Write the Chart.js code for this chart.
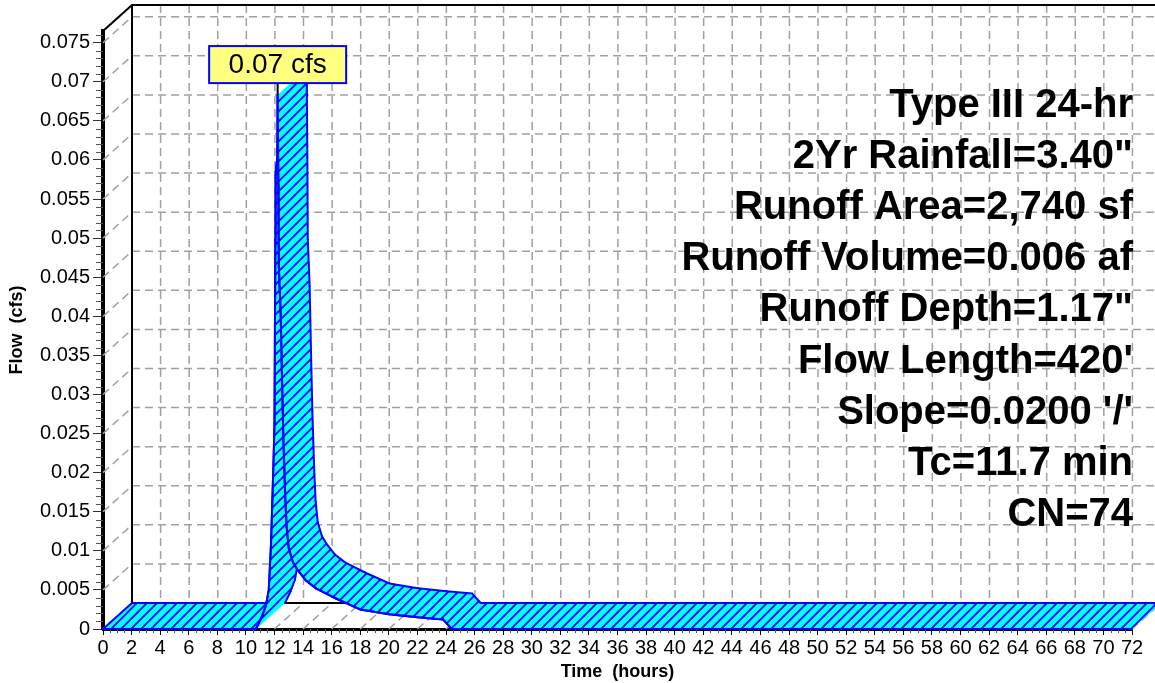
<!DOCTYPE html>
<html>
<head>
<meta charset="utf-8">
<script src="https://cdn.jsdelivr.net/npm/chart.js@4.4.1/dist/chart.umd.min.js"></script>
<style>
  html, body { margin: 0; padding: 0; background: #fff; }
</style>
</head>
<body>
<canvas id="hydroChart" width="1155" height="683"></canvas>
<script>
// hydrograph (hours, cfs)
const timeHours = [0, 10.7, 11.1, 11.4, 11.6, 11.76, 11.94, 12.0, 12.06, 12.08, 12.18, 12.22,
  12.27, 12.3, 12.43, 12.55, 12.62, 12.68, 12.76, 12.85, 13.0, 13.3, 13.6, 14.2, 14.9,
  16.3, 18.0, 20.0, 22.0, 23.8, 24.4, 72];
const flowCfs = [0, 0, 0.0015, 0.003, 0.005, 0.011, 0.022, 0.0265, 0.0498, 0.0585, 0.060, 0.0683,
  0.057, 0.0465, 0.0405, 0.030, 0.0245, 0.021, 0.0165, 0.013, 0.0103, 0.0085, 0.0076, 0.0062, 0.0052,
  0.0039, 0.0025, 0.0019, 0.0015, 0.0012, 0, 0];

const xTickHours = [0, 2, 4, 6, 8, 10, 12, 14, 16, 18, 20, 22, 24, 26, 28, 30, 32, 34, 36,
  38, 40, 42, 44, 46, 48, 50, 52, 54, 56, 58, 60, 62, 64, 66, 68, 70, 72];
const yTickValues = [0, 0.005, 0.01, 0.015, 0.02, 0.025, 0.03, 0.035, 0.04, 0.045, 0.05,
  0.055, 0.06, 0.065, 0.07, 0.075];

const infoLines = [
  "Type III 24-hr",
  "2Yr Rainfall=3.40\"",
  "Runoff Area=2,740 sf",
  "Runoff Volume=0.006 af",
  "Runoff Depth=1.17\"",
  "Flow Length=420'",
  "Slope=0.0200 '/'",
  "Tc=11.7 min",
  "CN=74"
];
const peakUnit = "cfs";

const FONT = '"Liberation Sans", Arial, sans-serif';
const DX = 29, DY = -26;   // depth of the 3d box

// cyan fill with blue diagonal hatch
const hatchCanvas = document.createElement("canvas");
hatchCanvas.width = 10;
hatchCanvas.height = 10;
(function () {
  const g = hatchCanvas.getContext("2d");
  g.fillStyle = "#00ffff";
  g.fillRect(0, 0, 10, 10);
  g.strokeStyle = "#0000ff";
  g.lineWidth = 1.8;
  g.beginPath();
  g.moveTo(-2, 12); g.lineTo(12, -2);
  g.moveTo(-7, 7); g.lineTo(7, -7);
  g.moveTo(3, 17); g.lineTo(17, 3);
  g.stroke();
})();

function seg(ctx, x1, y1, x2, y2) {
  ctx.beginPath();
  ctx.moveTo(x1, y1);
  ctx.lineTo(x2, y2);
  ctx.stroke();
}

const depthPlugin = {
  id: "depth3d",
  beforeDatasetsDraw(chart) {
    const { ctx, chartArea: a, scales: { x, y } } = chart;
    const W = chart.width;
    ctx.save();

    // dashed grid on the back wall, floor and left wall
    ctx.strokeStyle = "#a0a0a0";
    ctx.lineWidth = 1.5;
    ctx.setLineDash([8, 5]);
    yTickValues.forEach(v => {
      if (v === 0) return;
      const py = y.getPixelForValue(v);
      seg(ctx, a.left + DX, py + DY, W, py + DY);
      seg(ctx, a.left, py, a.left + DX, py + DY);
    });
    xTickHours.forEach(h => {
      if (h === 0) return;
      const px = x.getPixelForValue(h);
      seg(ctx, px + DX, a.top + DY, px + DX, a.bottom + DY);
      seg(ctx, px, a.bottom, px + DX, a.bottom + DY);
    });
    ctx.setLineDash([]);

    // box edges
    ctx.strokeStyle = "#000";
    ctx.lineWidth = 2;
    ctx.beginPath();
    ctx.moveTo(a.left, a.top);
    ctx.lineTo(a.left + DX, a.top + DY);
    ctx.lineTo(W, a.top + DY);
    ctx.moveTo(a.left + DX, a.top + DY);
    ctx.lineTo(a.left + DX, a.bottom + DY);
    ctx.lineTo(W, a.bottom + DY);
    ctx.stroke();

    // minor ticks
    ctx.strokeStyle = "#555";
    ctx.lineWidth = 1;
    for (let v = 0.001; v < 0.0765; v += 0.001) {
      if (Math.abs(v / 0.005 - Math.round(v / 0.005)) < 1e-6) continue;
      const py = Math.round(y.getPixelForValue(v)) + 0.5;
      seg(ctx, a.left - 7, py, a.left, py);
    }
    for (let h = 0.5; h < 72; h += 0.5) {
      if (h % 2 === 0) continue;
      const px = Math.round(x.getPixelForValue(h)) + 0.5;
      seg(ctx, px, a.bottom, px, a.bottom + 4);
    }

    // hydrograph ribbon, one face per segment
    const pat = ctx.createPattern(hatchCanvas, "repeat");
    const pts = timeHours.map((t, i) => [x.getPixelForValue(t), y.getPixelForValue(flowCfs[i])]);
    ctx.lineJoin = "round";
    ctx.lineCap = "round";
    for (let i = 0; i < pts.length - 1; i++) {
      const [x0, y0] = pts[i];
      const [x1, y1] = pts[i + 1];
      ctx.beginPath();
      ctx.moveTo(x0, y0);
      ctx.lineTo(x1, y1);
      ctx.lineTo(x1 + DX, y1 + DY);
      ctx.lineTo(x0 + DX, y0 + DY);
      ctx.closePath();
      ctx.fillStyle = pat;
      ctx.fill();
      ctx.strokeStyle = "#0000ff";
      ctx.lineWidth = 2;
      seg(ctx, x0 + DX, y0 + DY, x1 + DX, y1 + DY);
      seg(ctx, x0, y0, x1, y1);
      if (i === 0) seg(ctx, x0, y0, x0 + DX, y0 + DY);
    }
    ctx.restore();
  },
  afterDatasetsDraw(chart) {
    const { ctx, chartArea: a, scales: { x, y } } = chart;
    ctx.save();

    // peak label
    let k = 0;
    flowCfs.forEach((v, i) => { if (v > flowCfs[k]) k = i; });
    const px = x.getPixelForValue(timeHours[k]);
    const py = y.getPixelForValue(flowCfs[k]);
    const bw = 137, bh = 37;
    const bBottom = py - 12;
    ctx.strokeStyle = "#000";
    ctx.lineWidth = 2;
    seg(ctx, px, py, px, bBottom);
    ctx.fillStyle = "#ffff80";
    ctx.fillRect(px - bw / 2, bBottom - bh, bw, bh);
    ctx.strokeStyle = "#0000ff";
    ctx.strokeRect(px - bw / 2, bBottom - bh, bw, bh);
    ctx.fillStyle = "#000";
    ctx.font = "28px " + FONT;
    ctx.textAlign = "center";
    ctx.textBaseline = "middle";
    ctx.fillText(flowCfs[k].toFixed(2) + " " + peakUnit, px, bBottom - bh / 2 + 1);

    // run info
    ctx.font = "bold 40px " + FONT;
    ctx.textAlign = "right";
    ctx.textBaseline = "alphabetic";
    infoLines.forEach((s, i) => {
      ctx.fillText(s, a.right + 1, a.top + 86 + i * 51.1);
    });
    ctx.restore();
  }
};

new Chart("hydroChart", {
  type: "line",
  data: {
    datasets: [
      {
        label: "Runoff",
        data: timeHours.map((t, i) => ({ x: t, y: flowCfs[i] })),
        borderColor: "#0000ff",
        borderWidth: 2,
        pointRadius: 0,
        tension: 0,
        fill: false
      }
    ]
  },
  options: {
    responsive: false,
    animation: false,
    devicePixelRatio: 1,
    layout: { padding: { top: 31, right: 23, bottom: 0, left: 0 } },
    plugins: {
      legend: { display: false },
      tooltip: { enabled: false }
    },
    scales: {
      x: {
        type: "linear",
        min: 0,
        max: 72,
        afterBuildTicks: s => { s.ticks = xTickHours.map(v => ({ value: v })); },
        afterFit: s => { s.height = 54; },
        ticks: {
          autoSkip: false,
          maxRotation: 0,
          padding: 1,
          color: "#000",
          font: { family: FONT, size: 20 },
          callback: v => String(v)
        },
        grid: { drawOnChartArea: false, drawTicks: true, tickLength: 6, color: "#000", lineWidth: 1 },
        border: { color: "#000", width: 3 },
        title: {
          display: true,
          text: "Time  (hours)",
          color: "#000",
          font: { family: FONT, size: 18, weight: "bold" },
          padding: { top: 0, bottom: 0 }
        }
      },
      y: {
        min: 0,
        max: 0.0765,
        afterBuildTicks: s => { s.ticks = yTickValues.map(v => ({ value: v })); },
        afterFit: s => { s.width = 103; },
        ticks: {
          padding: 3,
          color: "#000",
          font: { family: FONT, size: 20 },
          callback: v => String(Number(v.toFixed(3)))
        },
        grid: { drawOnChartArea: false, drawTicks: true, tickLength: 10, color: "#333", lineWidth: 1 },
        border: { color: "#000", width: 4 },
        title: {
          display: true,
          text: "Flow  (cfs)",
          color: "#000",
          font: { family: FONT, size: 18, weight: "bold" },
          padding: { top: 6, bottom: 0 }
        }
      }
    }
  },
  plugins: [depthPlugin]
});
</script>
</body>
</html>
